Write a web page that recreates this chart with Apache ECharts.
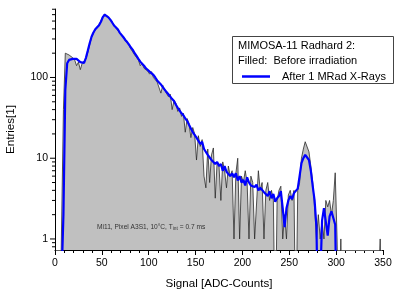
<!DOCTYPE html>
<html><head><meta charset="utf-8">
<script src="https://cdn.jsdelivr.net/npm/echarts@6/dist/echarts.min.js"></script>
<style>html,body{margin:0;padding:0;background:#fff}#c{width:399px;height:299px}</style>
</head><body><div id="c"></div>
<script>
// Histogram bin centres (ADC counts, 2-count bins)
const binCenters = [
  1,3,5,7,9,11,13,15,17,19, 21,23,25,27,29,31,33,35,37,39,
  41,43,45,47,49,51,53,55,57,59, 61,63,65,67,69,71,73,75,77,79,
  81,83,85,87,89,91,93,95,97,99, 101,103,105,107,109,111,113,115,117,119,
  121,123,125,127,129,131,133,135,137,139, 141,143,145,147,149,151,153,155,157,159,
  161,163,165,167,169,171,173,175,177,179, 181,183,185,187,189,191,193,195,197,199,
  201,203,205,207,209,211,213,215,217,219, 221,223,225,227,229,231,233,235,237,239,
  241,243,245,247,249,251,253,255,257,259, 261,263,265,267,269,271,273,275,277,279,
  281,283,285,287,289,291,293,295,297,299, 301,303,305,307,309,311,313,315,317,319,
  321,323,325,327,329,331,333,335,337,339, 341,343,345,347,349
];
// Filled: before irradiation
const beforeCounts = [
  0,0,0,0,40,200,210,190,200,175,
  165,140,155,125,150,150,170,205,255,315,
  355,390,425,450,500,570,610,580,560,515,
  485,445,410,400,355,340,320,285,280,250,
  225,225,190,195,165,140,150,130,135,120,
  110,118,100,105,88,90,64,80,70,68,
  58,62,40,52,48,38,42,33,36,21,
  31,27,18,24,20,9.5,19,14,17,6,
  4.3,13,5,11,13.4,3.2,9,8,3,9,
  7,4.3,8,6,7,1,6.5,10,1,6,
  5,7,5,1,6,5,1,1,7,4,
  5,1,4,5,3,4,3,0,3,4,
  4.5,1,2,1,3.5,4,3,4,0,4,
  5,10,13,16,16,12,8,5,2.5,1,
  2,1,1.7,1,3,2.5,3,2,3,6.6,
  1,0,1,0,0,0,0,0,0,0,
  0,0,0,0,0,0,0,0,0,0,
  0,0,0,1,0
];
// Blue: after 1 MRad X-rays
const afterCounts = [
  0,0,0,0,2,70,150,165,168,170,
  172,170,162,155,150,152,175,215,265,320,
  360,395,420,445,490,560,600,590,555,520,
  480,440,420,395,360,345,315,292,275,255,
  235,220,200,185,170,157,150,140,130,125,
  118,112,108,100,92,88,82,76,72,66,
  62,58,54,51,46,42,40,36,34,31,
  29,26,26,21,21,18,18,15,16,13,
  13,11,11,9.5,10,8.5,9,8,8.5,7,
  8,6.8,7,6,6.5,5.8,6.5,5.3,6,5,
  5.4,4.6,5.8,5,4.6,4.8,4.4,4.7,4,4.3,
  4.5,3.8,4,3.4,3.9,3.2,3.6,2.9,3.2,3.4,
  3.9,2.4,1.4,2.4,3.0,3.4,3.1,3.7,3.5,4.2,
  6,8.7,10,11,11,9.5,7,4.5,3,1.4,
  0,0,1.7,2.4,2.3,1.1,1.9,2.2,2.3,1.5,
  0,0,0,0,0,0,0,0,0,0,
  0,0,0,0,0,0,0,0,0,0,
  0,0,0,0,0
];
const yMajorTicks = [1, 10, 100];
const yMinorTicks = [0.8,0.9, 2,3,4,5,6,7,8,9, 20,30,40,50,60,70,80,90, 200,300,400,500,600,700];
const xAxisTitle = 'Signal [ADC-Counts]';
const yAxisTitle = 'Entries[1]';
const boxLine1 = 'MIMOSA-11 Radhard 2:';
const boxLine2 = 'Filled:  Before irradiation';
const seriesBefore = 'Before irradiation';
const seriesAfter = 'After 1 MRad X-Rays';

const FONT = "'Liberation Sans', Arial, Helvetica, sans-serif";
const EMPTY = 0.05; // empty bins drop below the axis floor
const toPairs = (vals) => binCenters.map((c, i) => [c, vals[i] > 0 ? vals[i] : EMPTY]);

const chart = echarts.init(document.getElementById('c'), null, {renderer: 'canvas'});
const G = {left: 55, right: 16, top: 9, bottom: 49};
chart.setOption({
  animation: false,
  backgroundColor: '#fff',
  textStyle: {fontFamily: FONT},
  grid: {left: G.left, right: G.right, top: G.top, bottom: G.bottom, containLabel: false, outerBoundsMode: 'none'},
  legend: {
    data: [seriesAfter], left: 237, top: 66, icon: 'rect', itemWidth: 28, itemHeight: 2.5,
    textStyle: {fontSize: 11, color: '#000', fontFamily: FONT, padding: [0,0,0,7]}
  },
  xAxis: {
    type: 'value', min: 0, max: 350, interval: 50,
    name: xAxisTitle, nameLocation: 'middle', nameGap: 28,
    nameTextStyle: {fontSize: 11.6, color: '#000', fontFamily: FONT},
    axisLine: {lineStyle: {color: '#000', width: 1}},
    axisTick: {length: 5, lineStyle: {color: '#000'}},
    minorTick: {show: true, splitNumber: 5, length: 3, lineStyle: {color: '#000'}},
    axisLabel: {fontSize: 10.5, color: '#000', margin: 8, fontFamily: FONT},
    splitLine: {show: false}
  },
  yAxis: {
    type: 'log', logBase: 10, min: 0.73, max: 705,
    name: yAxisTitle, nameLocation: 'middle', nameGap: 38,
    nameTextStyle: {fontSize: 11.6, color: '#000', fontFamily: FONT},
    axisLine: {show: true, lineStyle: {color: '#000', width: 1}},
    axisTick: {show: false},
    axisLabel: {
      fontSize: 10.5, color: '#000', margin: 7, fontFamily: FONT,
      showMinLabel: false, showMaxLabel: false,
      formatter: function (v) {
        const l = Math.log10(v);
        return Math.abs(l - Math.round(l)) < 1e-6 ? String(Math.round(v)) : '';
      }
    },
    splitLine: {show: false}
  },
  series: [
    {
      name: seriesBefore, type: 'line', data: toPairs(beforeCounts),
      symbol: 'none', showSymbol: false, clip: true, z: 2,
      lineStyle: {color: '#2b2b2b', width: 0.8},
      areaStyle: {color: '#c0c0c0', opacity: 1, origin: 'start'}
    },
    {
      name: seriesAfter, type: 'line', data: toPairs(afterCounts),
      symbol: 'none', showSymbol: false, clip: true, z: 3,
      itemStyle: {color: '#0000ff'},
      lineStyle: {color: '#0000ff', width: 2.2}
    }
  ]
});

// y-axis major and minor ticks placed through the axis scale
const x0 = chart.convertToPixel({xAxisIndex: 0}, 0);
const tickEls = [];
yMajorTicks.forEach(v => {
  const y = chart.convertToPixel({yAxisIndex: 0}, v);
  tickEls.push({type: 'line', shape: {x1: x0 - 5, y1: y, x2: x0, y2: y}, style: {stroke: '#000', lineWidth: 1}});
});
yMinorTicks.forEach(v => {
  const y = chart.convertToPixel({yAxisIndex: 0}, v);
  tickEls.push({type: 'line', shape: {x1: x0 - 3, y1: y, x2: x0, y2: y}, style: {stroke: '#000', lineWidth: 1}});
});
chart.setOption({
  graphic: [
    {type: 'rect', shape: {x: 232.5, y: 36.5, width: 161, height: 47}, style: {fill: '#fff', stroke: '#444', lineWidth: 1}, z: 0},
    {type: 'text', x: 238, y: 46, style: {text: boxLine1, fontSize: 11, fontFamily: FONT, fill: '#000', verticalAlign: 'middle'}, z: 1},
    {type: 'text', x: 238, y: 61, style: {text: boxLine2, fontSize: 11, fontFamily: FONT, fill: '#000', verticalAlign: 'middle'}, z: 1},
    {type: 'text', x: 97, y: 227, z: 5, style: {
      text: 'Mi11, Pixel A3S1, 10°C, T{s|int} = 0.7 ms', fontSize: 6.6, fontFamily: FONT, fill: '#333', verticalAlign: 'middle',
      rich: {s: {fontSize: 4.8, fontFamily: FONT, fill: '#333', verticalAlign: 'top', padding: [4,0,0,0]}}
    }}
  ].concat(tickEls)
});
</script></body></html>
